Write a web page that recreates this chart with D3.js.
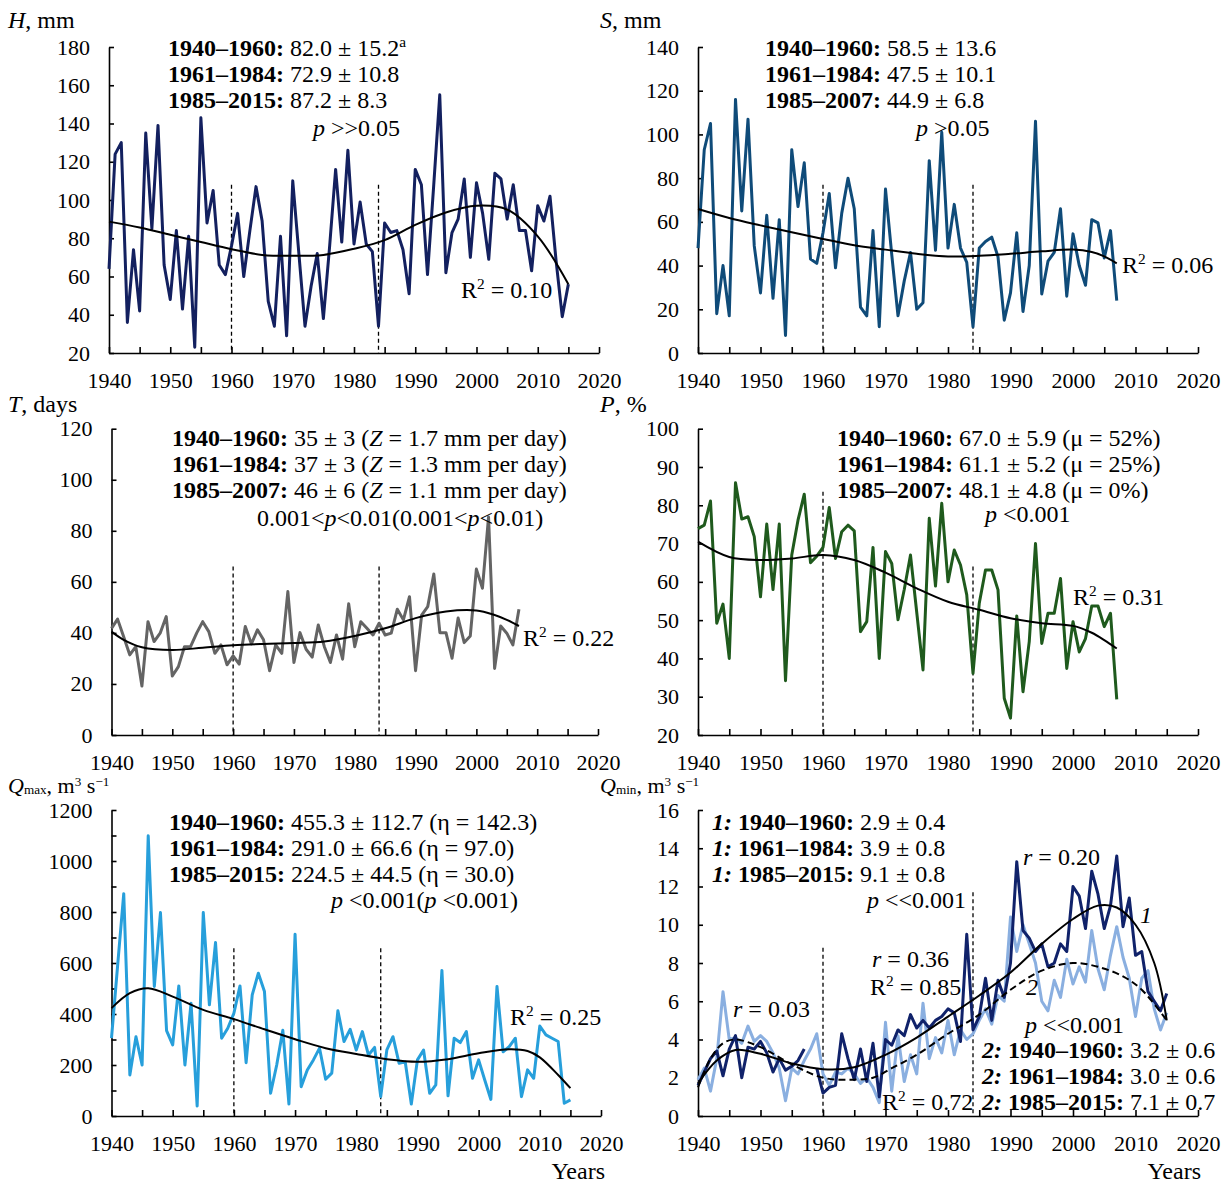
<!DOCTYPE html>
<html>
<head>
<meta charset="utf-8">
<script src="https://cdn.jsdelivr.net/npm/d3@7"></script>
<style>
  body { margin: 0; background: #fff; }
  text { font-family: "Liberation Serif", "Times New Roman", serif; fill: #000; }
</style>
</head>
<body>
<svg id="chart" width="1225" height="1185"></svg>
<script>
// ---------- data ----------
const yearsLong = d3.range(1940, 2016);   // 1940–2015
const yearsShort = d3.range(1940, 2008);  // 1940–2007
const breakYears = [1960, 1984];

const hValues = [64, 124, 130, 36, 74, 42, 135, 85, 139, 66,
  48, 84, 43, 81, 23, 143, 88, 105, 66, 61,
  76, 93, 60, 84, 107, 89, 47, 34, 81, 29,
  110, 72, 34, 55, 72, 38, 75, 116, 78, 126,
  77, 99, 77, 73, 34, 88, 83, 84, 74, 51,
  116, 108, 61, 107, 155, 62, 83, 90, 111, 70,
  109, 93, 69, 114, 111, 90, 108, 84, 84, 63,
  97, 89, 102, 68, 39, 56];

const sValues = [48, 93, 105, 18, 40, 17, 116, 65, 107, 49,
  27.5, 63, 25, 61, 8, 93, 67, 87, 43, 41,
  55, 73, 39, 64, 80, 66, 21, 17, 56, 12,
  75, 45, 17, 33, 46, 20, 23, 88, 47, 101,
  48, 68, 48, 41.5, 12, 48, 51, 53, 44, 15,
  27.5, 55, 19, 40, 106, 27, 42, 46, 66, 26,
  54.5, 40, 31, 61, 59.5, 43.5, 56, 24];

const tValues = [41.8, 45.4, 38.5, 31.4, 34.6, 19.2, 44.4, 36.6, 39.9, 46.4,
  23.1, 26.8, 34.6, 34.6, 39.9, 44.4, 40.5, 32, 35.3, 27.5,
  31, 27.8, 42.5, 35.7, 41.2, 37.3, 25.2, 35.3, 32, 56.2,
  28.4, 40.1, 33.6, 30.5, 43.1, 34.6, 28.4, 39.2, 29.7, 51.4,
  34.6, 44.4, 41.8, 39.2, 43.8, 39.2, 39.9, 49.3, 45.1, 54.2,
  25.2, 47, 50.3, 63.1, 40.1, 40.1, 30.1, 45.8, 36.2, 38.8,
  65, 57.5, 85.4, 26.1, 42.7, 39.9, 35.3, 49.3];

const pValues = [73.9, 74.8, 81.1, 49.2, 54.2, 40, 85.9, 76.4, 77, 71.8,
  56.1, 75.1, 58, 75.1, 34.2, 67, 76.1, 82.9, 65, 66.7,
  69, 79.4, 66.1, 73.1, 74.8, 73.3, 47, 49.6, 69, 40,
  67.9, 64.8, 50.1, 58, 67, 52, 37, 76.6, 58.9, 80.5,
  60, 68.3, 64.4, 56.6, 36.1, 54.4, 63.1, 63.1, 57.9, 29.6,
  24.4, 51.1, 31.3, 44.4, 70, 43.9, 51.8, 51.8, 60.9, 37.4,
  49.6, 41.7, 45.2, 53.7, 53.7, 48.3, 51.8, 29.3];

const qmaxValues = [305, 590, 872, 161, 311, 200, 1099, 508, 798, 335,
  279, 510, 200, 442, 39, 798, 436, 680, 305, 344,
  403, 510, 209, 475, 560, 488, 89, 200, 336, 47,
  713, 115, 180, 220, 266, 144, 168, 413, 292, 340,
  259, 331, 239, 269, 76, 259, 311, 207, 213, 47,
  220, 259, 89, 122, 571, 79, 305, 288, 331, 148,
  220, 141, 65, 508, 252, 272, 305, 76, 181, 148,
  353, 318, 305, 292, 50, 63];

const qmin1Values = [1.6, 2.3, 3.0, 3.4, 2.1, 3.5, 4.2, 2.0, 3.6, 3.5,
  3.9, 3.3, 2.3, 3.0, 2.4, 2.6, 2.9, 3.5, null, 2.5,
  1.2, 1.5, 1.6, 4.3, 3.0, 1.9, 3.5, 1.8, 3.8, 1.0,
  4.0, 3.7, 4.5, 4.2, 5.3, 4.6, 5.0, 4.6, 5.0, 5.2,
  5.6, 5.4, 3.9, 9.5, 4.5, 5.2, 7.2, 5.0, 7.1, 6.2,
  8.0, 13.3, 9.7, 9.3, 8.6, 9.0, 7.8, 8.0, 9.0, 8.6,
  12.0, 11.5, 9.8, 12.8, 11.6, 9.8, 11.0, 13.6, 9.9, 11.4,
  8.4, 8.6, 6.5, 6.0, 5.5, 6.4];

const qmin2Values = [1.9, 2.5, 1.3, 3.0, 6.5, 4.0, 4.1, 3.8, 4.7, 3.9,
  4.2, 3.9, 3.3, 2.5, 0.8, 2.5, 2.2, 2.9, 3.5, 4.3,
  2.2, 1.6, 2.3, 2.2, 2.5, 2.2, 1.7, 2.0, 1.5, 0.7,
  4.9, 1.3, 4.2, 1.8, 3.2, 2.2, 5.9, 3.0, 4.1, 3.3,
  5.0, 3.2, 4.5, 4.0, 4.3, 5.0, 5.6, 4.8, 6.3, 6.0,
  10.4, 8.6, 10.0, 9.0, 8.0, 6.0, 5.5, 7.1, 6.2, 8.2,
  6.9, 7.8, 7.0, 9.7, 7.7, 6.6, 8.4, 9.9, 8.3, 7.2,
  5.2, 7.2, 7.6, 5.6, 4.5, 5.4];

// polynomial trend lines as [year, value]
const hTrend = [[1940, 88.7], [1945, 85.6], [1950, 81.8], [1955, 78], [1960, 74.3], [1965, 71.3],
  [1970, 70.8], [1975, 71.3], [1980, 74.5], [1985, 79], [1990, 87], [1995, 93.5], [2000, 97],
  [2005, 95], [2010, 81], [2015, 56]];
const sTrend = [[1940, 65.9], [1945, 61.8], [1950, 58.4], [1955, 55.2], [1960, 52.2], [1965, 49.3],
  [1970, 47.3], [1975, 45.4], [1980, 44.2], [1985, 44.5], [1990, 45.4], [1995, 46.5], [2000, 47.3],
  [2003, 46.2], [2005, 44.2], [2007, 41]];
const tTrend = [[1940, 40.5], [1942, 37.3], [1945, 34.4], [1950, 33.3], [1955, 34.2], [1960, 35.2],
  [1965, 35.7], [1970, 36], [1975, 36.6], [1980, 38.8], [1985, 41.8], [1990, 45.8], [1995, 48.4],
  [2000, 48.8], [2003, 47], [2005, 45.1], [2007, 42.7]];
const pTrend = [[1940, 70.5], [1945, 66.5], [1950, 65.7], [1955, 66.1], [1960, 67], [1965, 65.7],
  [1970, 62.4], [1975, 58.3], [1980, 54.8], [1985, 52.7], [1990, 50.5], [1995, 49.2], [2000, 48.5],
  [2003, 46.7], [2005, 44.8], [2007, 42.6]];
const qmaxTrend = [[1940, 423], [1943, 482], [1946, 501], [1950, 468], [1955, 416], [1960, 380],
  [1965, 340], [1970, 301], [1975, 266], [1980, 243], [1985, 223], [1990, 213], [1995, 223],
  [2000, 246], [2005, 262], [2008, 255], [2010, 230], [2013, 161], [2015, 109]];
const qmin1Trend = [[1940, 1.7], [1943, 2.9], [1946, 3.45], [1950, 3.25], [1955, 2.75], [1960, 2.45],
  [1965, 2.55], [1970, 3.2], [1975, 4.1], [1980, 5.2], [1985, 6.3], [1990, 7.5], [1995, 9.0],
  [2000, 10.3], [2004, 11.0], [2007, 10.9], [2010, 10.0], [2013, 8.0], [2015, 5.0]];
const qmin2Trend = [[1940, 1.5], [1942, 3.0], [1944, 3.8], [1946, 4.0], [1950, 3.6], [1955, 2.7],
  [1960, 2.0], [1965, 1.9], [1968, 2.0], [1971, 2.5], [1975, 3.2], [1980, 4.3], [1985, 5.3],
  [1990, 6.6], [1995, 7.6], [2000, 8.0], [2004, 7.8], [2008, 7.3], [2011, 6.6], [2015, 5.0]];

// tick values
const xTicks = d3.range(1940, 2021, 5);
const hTicks = [20, 40, 60, 80, 100, 120, 140, 160, 180];
const sTicks = [0, 20, 40, 60, 80, 100, 120, 140];
const tTicks = [0, 20, 40, 60, 80, 100, 120];
const pTicks = [20, 30, 40, 50, 60, 70, 80, 90, 100];
const qmaxTicks = [0, 100, 200, 300, 400, 500, 600, 700, 800, 900, 1000, 1100, 1200];
const qmaxLabels = [0, 200, 400, 600, 800, 1000, 1200];
const qminTicks = [0, 2, 4, 6, 8, 10, 12, 14, 16];

// annotation texts
const periodsLong = ['1940–1960:', '1961–1984:', '1985–2015:'];
const periodsShort = ['1940–1960:', '1961–1984:', '1985–2007:'];
const hStats = [[' 82.0 ± 15.2', { t: 'a', sup: 1 }], ' 72.9 ± 10.8', ' 87.2 ± 8.3'];
const sStats = [' 58.5 ± 13.6', ' 47.5 ± 10.1', ' 44.9 ± 6.8'];
const tStats = [[' 35 ± 3 (', { t: 'Z', i: 1 }, ' = 1.7 mm per day)'],
                [' 37 ± 3 (', { t: 'Z', i: 1 }, ' = 1.3 mm per day)'],
                [' 46 ± 6 (', { t: 'Z', i: 1 }, ' = 1.1 mm per day)']];
const pStats = [' 67.0 ± 5.9 (μ = 52%)', ' 61.1 ± 5.2 (μ = 25%)', ' 48.1 ± 4.8 (μ = 0%)'];
const qmaxStats = [' 455.3 ± 112.7 (η = 142.3)', ' 291.0 ± 66.6 (η = 97.0)', ' 224.5 ± 44.5 (η = 30.0)'];
const qmin1Stats = [' 2.9 ± 0.4', ' 3.9 ± 0.8', ' 9.1 ± 0.8'];
const qmin2Stats = [' 3.2 ± 0.6', ' 3.0 ± 0.6', ' 7.1 ± 0.7'];

// ---------- drawing ----------
const svg = d3.select('#chart');
svg.append('rect').attr('width', 1225).attr('height', 1185).attr('fill', '#fff');

const STAT_SIZE = 24;
const TICK_SIZE = 22;

// text made of styled pieces: b = bold, i = italic, sup / sub
function rich(x, y, parts, opts = {}) {
  const size = opts.size || STAT_SIZE;
  const supShift = opts.supShift || 0.38, subShift = opts.subShift || 0.15, small = opts.small || 0.64;
  const t = svg.append('text').attr('x', x).attr('y', y).attr('font-size', size);
  if (opts.anchor) t.attr('text-anchor', opts.anchor);
  let shift = 0;
  parts.forEach(p => {
    if (typeof p === 'string') p = { t: p };
    const s = p.sup ? -size * supShift : p.sub ? size * subShift : 0;
    t.append('tspan')
      .attr('dy', s - shift)
      .attr('font-size', (p.sup || p.sub) ? size * small : size)
      .attr('font-weight', p.b ? 'bold' : null)
      .attr('font-style', p.i ? 'italic' : null)
      .text(p.t);
    shift = s;
  });
  return t;
}

function statLines(x, y0, periods, rests, prefix) {
  rests.forEach((r, i) => {
    const parts = [];
    if (prefix) parts.push({ t: prefix, b: 1, i: 1 }, { t: ' ', b: 1 });
    parts.push({ t: periods[i], b: 1 });
    rich(x, y0 + i * 26, parts.concat(Array.isArray(r) ? r : [r]));
  });
}

const r2 = v => [{ t: 'R' }, { t: '2', sup: 1 }, ' = ' + v];

function drawPanel(p) {
  const x = d3.scaleLinear().domain([1940, 2020]).range([p.left, p.right]);
  const y = d3.scaleLinear().domain(p.yDomain).range([p.bottom, p.top]);
  const g = svg.append('g');

  // period boundaries
  breakYears.forEach((yr, i) => {
    g.append('line')
      .attr('x1', x(yr)).attr('x2', x(yr))
      .attr('y1', y(p.dashTop[i])).attr('y2', p.bottom)
      .attr('stroke', '#000').attr('stroke-width', 1.3)
      .attr('stroke-dasharray', '4,3');
  });

  // axes, ticks pointing inward
  const ya = d3.axisLeft(y).tickValues(p.yTicks).tickSize(-5).tickSizeOuter(0).tickPadding(19)
    .tickFormat(d => (!p.yLabels || p.yLabels.includes(d)) ? d : '');
  const xa = d3.axisBottom(x).tickValues(xTicks).tickSize(-6).tickSizeOuter(0).tickPadding(19)
    .tickFormat(d => d % 10 === 0 ? d : '');
  [g.append('g').attr('transform', `translate(${p.left},0)`).call(ya),
   g.append('g').attr('transform', `translate(0,${p.bottom})`).call(xa)].forEach(a => {
    a.attr('font-family', null).attr('font-size', TICK_SIZE);
    a.selectAll('path, line').attr('stroke', '#000').attr('stroke-width', 1.6);
    a.selectAll('text').attr('fill', '#000');
  });

  // observed series
  const line = d3.line().defined(d => d[1] != null).x(d => x(d[0])).y(d => y(d[1]));
  p.series.forEach(s => {
    g.append('path')
      .datum(s.values.map((v, i) => [s.years[i], v]))
      .attr('d', line)
      .attr('fill', 'none').attr('stroke', s.color).attr('stroke-width', 3)
      .attr('stroke-linejoin', 'round');
  });

  // trend curves
  const curve = d3.line().curve(d3.curveCatmullRom.alpha(0.5)).x(d => x(d[0])).y(d => y(d[1]));
  p.trends.forEach(tr => {
    g.append('path').datum(tr.pts).attr('d', curve)
      .attr('fill', 'none').attr('stroke', '#000').attr('stroke-width', 2)
      .attr('stroke-dasharray', tr.dashed ? '7,4' : null);
  });
}

// --- H ---
drawPanel({ left: 109, right: 599, top: 47, bottom: 353, yDomain: [20, 180], yTicks: hTicks,
  dashTop: [108, 108],
  series: [{ years: yearsLong, values: hValues, color: '#13205f' }],
  trends: [{ pts: hTrend }] });
rich(8, 28, [{ t: 'H', i: 1 }, ', mm']);
statLines(168, 56, periodsLong, hStats);
rich(313, 136, [{ t: 'p', i: 1 }, ' >>0.05']);
rich(461, 298, r2('0.10'));

// --- S ---
drawPanel({ left: 698, right: 1198, top: 47, bottom: 353, yDomain: [0, 140], yTicks: sTicks,
  dashTop: [77, 77],
  series: [{ years: yearsShort, values: sValues, color: '#0f4b79' }],
  trends: [{ pts: sTrend }] });
rich(600, 28, [{ t: 'S', i: 1 }, ', mm']);
statLines(765, 56, periodsShort, sStats);
rich(916, 136, [{ t: 'p', i: 1 }, ' >0.05']);
rich(1122, 273, r2('0.06'));

// --- T ---
drawPanel({ left: 111.5, right: 598, top: 428.7, bottom: 735, yDomain: [0, 120], yTicks: tTicks,
  dashTop: [66, 66],
  series: [{ years: yearsShort, values: tValues, color: '#646464' }],
  trends: [{ pts: tTrend }] });
rich(8, 412, [{ t: 'T', i: 1 }, ', days']);
statLines(172, 446, periodsShort, tStats);
rich(257, 526, ['0.001<', { t: 'p', i: 1 }, '<0.01(0.001<', { t: 'p', i: 1 }, '<0.01)']);
rich(523, 646, r2('0.22'));

// --- P ---
drawPanel({ left: 698, right: 1198, top: 428.7, bottom: 735, yDomain: [20, 100], yTicks: pTicks,
  dashTop: [83.5, 64],
  series: [{ years: yearsShort, values: pValues, color: '#1f5a1d' }],
  trends: [{ pts: pTrend }] });
rich(600, 412, [{ t: 'P', i: 1 }, ', %']);
statLines(837, 446, periodsShort, pStats);
rich(985, 522, [{ t: 'p', i: 1 }, ' <0.001']);
rich(1073, 605, r2('0.31'));

// bottom-row titles sit between the middle row's year labels and the top tick label
const qTitle = { size: 22, supShift: 0.3, subShift: 0.05, small: 0.6 };

// --- Qmax ---
drawPanel({ left: 111.5, right: 601, top: 810, bottom: 1116, yDomain: [0, 1200], yTicks: qmaxTicks,
  yLabels: qmaxLabels, dashTop: [658, 658],
  series: [{ years: yearsLong, values: qmaxValues, color: '#279fdb' }],
  trends: [{ pts: qmaxTrend }] });
rich(8, 793, [{ t: 'Q', i: 1 }, { t: 'max', sub: 1 }, ', m', { t: '3', sup: 1 }, ' s', { t: '−1', sup: 1 }], qTitle);
statLines(169, 830, periodsLong, qmaxStats);
rich(331, 908, [{ t: 'p', i: 1 }, ' <0.001(', { t: 'p', i: 1 }, ' <0.001)']);
rich(510, 1025, r2('0.25'));
rich(605, 1179, ['Years'], { anchor: 'end' });

// --- Qmin ---
drawPanel({ left: 698, right: 1198, top: 810, bottom: 1116, yDomain: [0, 16], yTicks: qminTicks,
  dashTop: [8.8, 11.7],
  series: [{ years: yearsLong, values: qmin2Values, color: '#8aafe0' },
           { years: yearsLong, values: qmin1Values, color: '#10226a' }],
  trends: [{ pts: qmin1Trend }, { pts: qmin2Trend, dashed: true }] });
rich(600, 793, [{ t: 'Q', i: 1 }, { t: 'min', sub: 1 }, ', m', { t: '3', sup: 1 }, ' s', { t: '−1', sup: 1 }], qTitle);
statLines(712, 830, periodsLong, qmin1Stats, '1:');
rich(867, 908, [{ t: 'p', i: 1 }, ' <<0.001']);
rich(733, 1017, [{ t: 'r', i: 1 }, ' = 0.03']);
rich(872, 967, [{ t: 'r', i: 1 }, ' = 0.36']);
rich(870, 995, r2('0.85'));
rich(882, 1110, r2('0.72'));
rich(1023, 865, [{ t: 'r', i: 1 }, ' = 0.20']);
rich(1140, 923, [{ t: '1', i: 1 }]);
rich(1026, 995, [{ t: '2', i: 1 }]);
rich(1025, 1033, [{ t: 'p', i: 1 }, ' <<0.001']);
statLines(982, 1058, periodsLong, qmin2Stats, '2:');
rich(1201, 1179, ['Years'], { anchor: 'end' });
</script>
</body>
</html>
